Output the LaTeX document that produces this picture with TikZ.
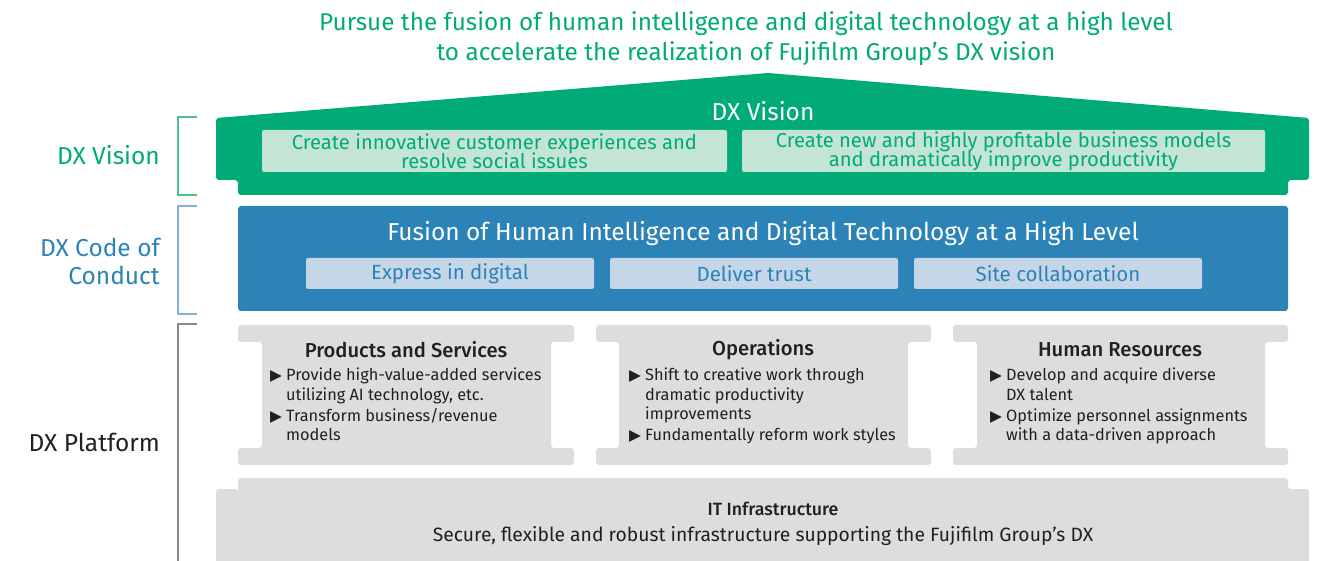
\documentclass[tikz,border=0pt]{standalone}
\usepackage{fontspec}
\setmainfont{Fira Sans}
\newfontfamily\medfont{Fira Sans}[UprightFont={* Medium}]
\newfontfamily\symfont{DejaVu Sans}
\definecolor{dxgreen}{HTML}{00AB78}
\definecolor{dxlgreen}{HTML}{C4E5D5}
\definecolor{dxblue}{HTML}{2B83B7}
\definecolor{dxlblue}{HTML}{C6D6E9}
\definecolor{dxgray}{HTML}{DCDDDF}
\definecolor{dxtext}{HTML}{231F20}
\definecolor{brgreen}{HTML}{4DBF97}
\definecolor{brblue}{HTML}{7FB3D8}
\definecolor{brgray}{HTML}{8A8A8A}
\newcommand{\ibeam}[4]{%
  \fill[dxgray, rounded corners=3] (#1,325) -- (#4,325) -- (#4,342) -- (#3,342) -- (#3,448) -- (#4,448) -- (#4,465) -- (#1,465) -- (#1,448) -- (#2,448) -- (#2,342) -- (#1,342) -- cycle;}
\begin{document}
\begin{tikzpicture}[x=1pt,y=-1pt,
  toptitle/.style={text=dxgreen, font=\fontsize{24.3}{30}\selectfont, align=center, inner sep=0},
  sidelabel/.style={anchor=east, font=\fontsize{24.5}{28}\selectfont, align=right, inner sep=0},
  whitehead/.style={text=white, font=\fontsize{24.5}{26}\selectfont, inner sep=0},
  gsub/.style={fill=dxlgreen, rounded corners=2, text=dxgreen, font=\fontsize{20.2}{19}\selectfont, align=center, inner sep=0},
  bsub/.style={fill=dxlblue, rounded corners=2, text=dxblue, font=\fontsize{20.5}{20}\selectfont, inner sep=0, minimum width=288, minimum height=31},
  ghead/.style={text=dxtext, font=\medfont\fontsize{20.2}{20}\selectfont, inner sep=0},
  bline/.style={anchor=base west, text=dxtext, font=\fontsize{16.3}{18}\selectfont, inner sep=0},
  bmark/.style={anchor=base west, text=dxtext, font=\symfont\fontsize{15.5}{14}\selectfont, inner sep=0},
  bracket/.style={line width=1.1pt}
]
\lineskiplimit=-100pt
\useasboundingbox (0,0) rectangle (1323,561);
% title
\node[toptitle] (title) at (746,39) {Pursue the fusion of human intelligence and digital technology at a high level\\to accelerate the realization of Fujifilm Group’s DX vision};
% brackets
\draw[bracket, brgreen] (197,117) -- (178,117) -- (178,195) -- (197,195);
\draw[bracket, brblue] (197,206) -- (178,206) -- (178,314) -- (197,314);
\draw[bracket, brgray] (197,324) -- (178,324) -- (178,570);
% side labels
\node[sidelabel, text=dxgreen] (lvision) at (160,155) {DX Vision};
\node[sidelabel, text=dxblue] (lcode) at (160,261) {DX Code of\\Conduct};
\node[sidelabel, text=dxtext] (lplat) at (160,442) {DX Platform};
% green house
\fill[dxgreen, rounded corners=3] (768,73) -- (1309,118) -- (1309,180) -- (1288,180) -- (1288,195) -- (238,195) -- (238,180) -- (216,180) -- (216,118) -- cycle;
\node[whitehead] (vhead) at (763,111) {DX Vision};
\node[gsub, minimum width=465, minimum height=42] (v1) at (494.5,151) {Create innovative customer experiences and\\resolve social issues};
\node[gsub, minimum width=523, minimum height=42] (v2) at (1003.5,151) {Create new and highly profitable business models\\and dramatically improve productivity};
% blue block
\fill[dxblue, rounded corners=3] (238,206) rectangle (1288,311);
\node[whitehead] (chead) at (763,234) {Fusion of Human Intelligence and Digital Technology at a High Level};
\node[bsub] (c1) at (450,273.5) {Express in digital};
\node[bsub] (c2) at (754,273.5) {Deliver trust};
\node[bsub] (c3) at (1058,273.5) {Site collaboration};
% platform boxes
\ibeam{238}{262}{551}{574}
\ibeam{596}{619}{908}{931}
\ibeam{953}{977}{1265}{1288}
\node[ghead] (p1) at (406,350) {Products and Services};
\node[bmark] (p1m1) at (270,381) {▶};
\node[bline] (p1a) at (286,381) {Provide high-value-added services};
\node[bline] (p1b) at (286,400) {utilizing AI technology, etc.};
\node[bmark] (p1m2) at (270,421) {▶};
\node[bline] (p1c) at (286,421) {Transform business/revenue};
\node[bline] (p1d) at (286,440) {models};
\node[ghead] (p2) at (763,350) {Operations};
\node[bmark] (p2m1) at (629,381) {▶};
\node[bline] (p2a) at (645,381) {Shift to creative work through};
\node[bline] (p2b) at (645,400) {dramatic productivity};
\node[bline] (p2c) at (645,419) {improvements};
\node[bmark] (p2m2) at (629,440) {▶};
\node[bline] (p2d) at (645,440) {Fundamentally reform work styles};
\node[ghead] (p3) at (1120,350) {Human Resources};
\node[bmark] (p3m1) at (990,381) {▶};
\node[bline] (p3a) at (1006,381) {Develop and acquire diverse};
\node[bline] (p3b) at (1006,400) {DX talent};
\node[bmark] (p3m2) at (990,421) {▶};
\node[bline] (p3c) at (1006,421) {Optimize personnel assignments};
\node[bline] (p3d) at (1006,440) {with a data-driven approach};
% IT infrastructure
\fill[dxgray, rounded corners=3] (238,490) -- (238,478) -- (1288,478) -- (1288,489) -- (1309,489) -- (1309,580) -- (216,580) -- (216,489) -- (238,489) -- cycle;
\node[ghead, font=\medfont\fontsize{17.8}{20}\selectfont] (ithead) at (773,509) {IT Infrastructure};
\node[text=dxtext, font=\fontsize{19.3}{20}\selectfont, inner sep=0] (ittext) at (763,536.5) {Secure, flexible and robust infrastructure supporting the Fujifilm Group’s DX};
\end{tikzpicture}
\end{document}
